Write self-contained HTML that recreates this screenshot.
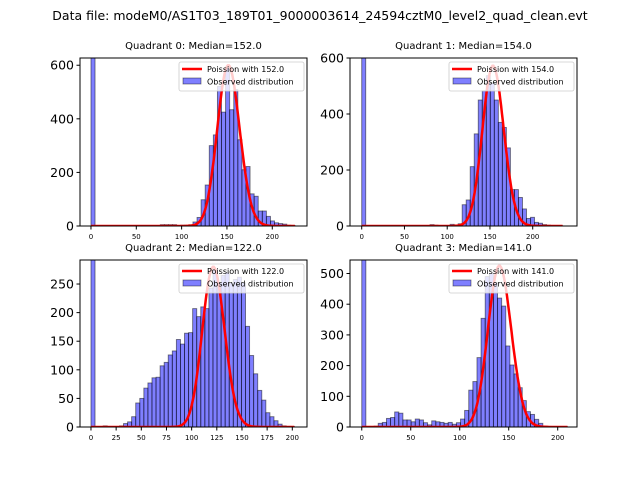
<!DOCTYPE html>
<html><head><meta charset="utf-8"><style>
body{margin:0;background:#fff;}
svg{display:block;font-family:"DejaVu Sans","Liberation Sans",sans-serif;}
</style></head><body>
<svg id="fig" width="640" height="480" viewBox="0 0 640 480">
<rect width="640" height="480" fill="#fff"/>
<text x="320" y="20" font-size="12.5" text-anchor="middle">Data file: modeM0/AS1T03_189T01_9000003614_24594cztM0_level2_quad_clean.evt</text>
</svg>
<script>
// ---- data ----
const q0Counts=[2500,0,0,0,0,0,0,0,0,0,0,0,0,0,0,0,0,5,5,5,5,0,3,3,5,15,32,98,153,300,340,521,425,590,434,509,322,210,222,120,111,56,56,36,19,12,9,7,3,2];
const q1Counts=[2500,0,0,0,0,0,0,0,0,0,0,0,0,0,0,0,0,5,3,0,0,0,6,4,8,76,93,212,329,450,483,537,510,450,370,352,279,130,130,102,61,27,31,13,10,5,3,2,1,1];
const q2Counts=[2500,0,0,2,0,0,0,2,6,9,18,42,50,68,77,86,87,107,113,126,133,153,145,164,165,207,193,210,207,243,275,252,265,270,252,258,262,252,176,125,93,64,47,25,18,11,5,2,1,1];
const q3Counts=[2500,2,2,3,12,15,28,31,49,45,23,23,17,26,23,14,7,20,17,15,12,15,9,14,26,54,120,148,226,354,490,500,470,420,394,264,202,173,128,86,50,41,25,12,3,2,1,1,1,1];
const medians=[152.0,154.0,122.0,141.0];
const poissonPeaks=[600,572,280,525];
const binWidths=[4.5,4.7,4.04,4.2];
const yTicks0=[0,200,400,600],yTicks1=[0,200,400,600],yTicks2=[0,50,100,150,200,250],yTicks3=[0,100,200,300,400,500];
const xTicks0=[0,50,100,150,200],xTicks1=[0,50,100,150,200],xTicks2=[0,25,50,75,100,125,150,175,200],xTicks3=[0,50,100,150,200];
// ---- layout ----
const panels=[
 {counts:q0Counts,yt:yTicks0,xt:xTicks0,L:80,R:307,T:58,B:226,x0:-12.1,x1:238.3,ymax:627,title:"Quadrant 0: Median=152.0"},
 {counts:q1Counts,yt:yTicks1,xt:xTicks1,L:350,R:577,T:58,B:226,x0:-13.7,x1:251.8,ymax:600,title:"Quadrant 1: Median=154.0"},
 {counts:q2Counts,yt:yTicks2,xt:xTicks2,L:80,R:307,T:260,B:427,x0:-10.9,x1:214.6,ymax:292,title:"Quadrant 2: Median=122.0"},
 {counts:q3Counts,yt:yTicks3,xt:xTicks3,L:350,R:577,T:260,B:427,x0:-12.0,x1:219.7,ymax:544,title:"Quadrant 3: Median=141.0"}];
const NS="http://www.w3.org/2000/svg";
const svg=document.getElementById('fig');
function mk(tag,attrs,parent){const e=document.createElementNS(NS,tag);for(const k in attrs)e.setAttribute(k,attrs[k]);(parent||svg).appendChild(e);return e;}
function lgamma(n){if(n<2)return 0;return (n+0.5)*Math.log(n+1)-(n+1)+0.5*Math.log(2*Math.PI)+1/(12*(n+1));}
panels.forEach((p,i)=>{
 const g=mk('g',{});
 
 
 const sx=v=>p.L+(v-p.x0)/(p.x1-p.x0)*(p.R-p.L);
 const sy=v=>p.B-v/p.ymax*(p.B-p.T);
 const cid='clip'+i;
 const cp=mk('clipPath',{id:cid},g);mk('rect',{x:p.L,y:p.T,width:p.R-p.L,height:p.B-p.T},cp);
 const bars=mk('g',{'clip-path':'url(#'+cid+')'},g);
 const w=binWidths[i];
 p.counts.forEach((c,k)=>{
  if(c<=0)return;
  const r=mk('rect',{x:sx(k*w),y:sy(c),width:sx((k+1)*w)-sx(k*w),height:p.B-sy(c),fill:'rgba(0,0,255,0.5)',stroke:'rgba(0,0,0,0.5)','stroke-width':0.9},bars);
  
  
 });
 // poisson
 const lam=medians[i];const peakP=Math.exp(Math.round(lam)*Math.log(lam)-lam-lgamma(Math.round(lam)));
 let d='';const kmax=p.counts.length*w;
 for(let k=0;k<=kmax;k++){const pm=Math.exp(k*Math.log(lam)-lam-lgamma(k));const v=pm/peakP*poissonPeaks[i];d+=(k?'L':'M')+sx(k).toFixed(1)+','+sy(v).toFixed(1);}
 const pl=mk('path',{d:d,fill:'none',stroke:'#ff0000','stroke-width':2.5,'clip-path':'url(#'+cid+')'},g);
 
 
 // frame
 const fr=mk('rect',{x:p.L,y:p.T,width:p.R-p.L,height:p.B-p.T,fill:'none',stroke:'#000','stroke-width':1},g);
 
 
 // y ticks
 p.yt.forEach(t=>{const y=sy(t);mk('line',{x1:p.L-3.5,x2:p.L,y1:y,y2:y,stroke:'#000'},g);
  const tx=mk('text',{x:p.L-6,y:y+4.5,'font-size':12.5,'text-anchor':'end'},g);tx.textContent=t;
  
  });
 p.xt.forEach(t=>{const x=sx(t);mk('line',{x1:x,x2:x,y1:p.B,y2:p.B+3.5,stroke:'#000'},g);
  const tx=mk('text',{x:x,y:p.B+13,'font-size':7,'text-anchor':'middle'},g);tx.textContent=t;
  
  });
 const ti=mk('text',{x:(p.L+p.R)/2,y:p.T-9,'font-size':10,'text-anchor':'middle'},g);ti.textContent=p.title;
 
 
 // legend
 const lg=mk('g',{},g);
 
 
 const lx=p.R-128,ly=p.T+4;
 mk('rect',{x:lx,y:ly,width:125,height:29,rx:2,fill:'rgba(255,255,255,0.8)',stroke:'#ccc','stroke-width':0.8},lg);
 mk('line',{x1:lx+3,x2:lx+23,y1:ly+7,y2:ly+7,stroke:'#f00','stroke-width':2.5},lg);
 const t1=mk('text',{x:lx+28,y:ly+10,'font-size':8},lg);t1.textContent='Poission with '+medians[i].toFixed(1);
 
 
 mk('rect',{x:lx+4,y:ly+16,width:18,height:6,fill:'rgba(0,0,255,0.5)',stroke:'rgba(0,0,0,0.5)','stroke-width':0.8},lg);
 const t2=mk('text',{x:lx+28,y:ly+22.5,'font-size':8},lg);t2.textContent='Observed distribution';
 
 
});
</script>
</body></html>
